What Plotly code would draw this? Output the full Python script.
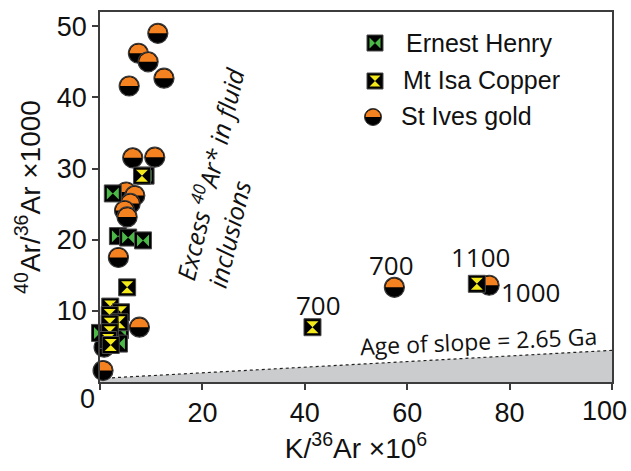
import numpy as np
import plotly.graph_objects as go

# ---------------- data ----------------
# Ernest Henry
eh_x = [2.5, 8.9, 3.5, 5.5, 8.4, 0.0, 3.9, 3.7]
eh_y = [26.5, 29.0, 20.5, 20.3, 19.9, 6.9, 7.3, 5.4]
# Mt Isa Copper
mi_x = [8.2, 5.3, 2.0, 4.1, 1.9, 3.8, 1.9, 1.9, 1.6, 2.1, 41.5, 73.6]
mi_y = [29.0, 13.3, 10.6, 9.8, 9.4, 8.4, 8.2, 7.0, 5.9, 5.2, 7.7, 13.8]
# St Ives gold
si_x = [11.3, 7.5, 9.4, 12.5, 5.7, 6.4, 10.7, 5.1, 6.8, 5.9, 4.8, 5.3, 3.6, 7.7, 0.8, 0.6, 57.5, 76.0]
si_y = [49.0, 46.2, 45.0, 42.7, 41.6, 31.5, 31.6, 26.7, 26.2, 25.1, 24.1, 23.2, 17.5, 7.7, 4.9, 1.6, 13.3, 13.6]
# reference slope (age of slope = 2.65 Ga)
slope_x = [0, 100]
slope_y = [0.5, 4.45]
# point labels
label_text = ["700", "700", "1100", "1000"]

x_ticks = [20, 40, 60, 80, 100]
y_ticks = [10, 20, 30, 40, 50]

# ---------------- layout constants ----------------
W, H = 631, 471
ML, MR, MT, MB = 100, 19, 12, 89
PW, PH = W - ML - MR, H - MT - MB
X_RANGE = [0, 100]
Y_RANGE = [0, 52]
PPX = PW / (X_RANGE[1] - X_RANGE[0])
PPY = PH / (Y_RANGE[1] - Y_RANGE[0])

ORANGE = "#f58220"
GREEN = "#4cb848"
YELLOW = "#f2e81a"
DARK = "#111111"
SANS = "Liberation Sans, Arial, sans-serif"
HUMAN = "Open Sans, Noto Sans, sans-serif"

SQ = 17      # square marker size (px)
INNER = 12   # bowtie/hourglass size (px)
CIRC = 20    # circle diameter (px)


def half_disc(x0, y0, r_px, ppx, ppy, n=32):
    t = np.linspace(0, np.pi, n)
    xs = list(x0 + (r_px / ppx) * np.cos(t)) + [x0 + r_px / ppx]
    ys = list(y0 + (r_px / ppy) * np.sin(t)) + [y0]
    return xs, ys


def P(px, py):
    """pixel position -> paper coordinates"""
    return (px - ML) / PW, (H - MB - py) / PH


fig = go.Figure()

# grey region under the slope
fig.add_trace(go.Scatter(
    x=slope_x, y=slope_y, mode="lines", fill="tozeroy", fillcolor="#cbcccd",
    line=dict(color="#222222", width=1.2, dash="3px,3px"),
    showlegend=False, hoverinfo="skip"))

# St Ives gold: black disc + orange upper half
for x0, y0 in zip(si_x, si_y):
    fig.add_trace(go.Scatter(
        x=[x0], y=[y0], mode="markers", cliponaxis=False, showlegend=False,
        name="St Ives gold",
        marker=dict(symbol="circle", size=CIRC, color="#000000",
                    line=dict(color="#3a3a3a", width=1.2))))
    hx, hy = half_disc(x0, y0, CIRC / 2 - 1.2, PPX, PPY)
    fig.add_trace(go.Scatter(
        x=hx, y=hy, mode="lines", fill="toself", fillcolor=ORANGE,
        line=dict(width=0, color=ORANGE), showlegend=False,
        name="St Ives gold", hoverinfo="skip"))


def square_marker(xs, ys, inner_symbol, inner_color, name):
    for x0, y0 in zip(xs, ys):
        fig.add_trace(go.Scatter(
            x=[x0], y=[y0], mode="markers", cliponaxis=False, showlegend=False,
            name=name,
            marker=dict(symbol="square", size=SQ, color="#000000",
                        line=dict(color="#4a4a4a", width=1))))
        fig.add_trace(go.Scatter(
            x=[x0], y=[y0], mode="markers", cliponaxis=False, showlegend=False,
            name=name, hoverinfo="skip",
            marker=dict(symbol=inner_symbol, size=INNER, color=inner_color,
                        line=dict(width=0))))


square_marker(eh_x, eh_y, "bowtie", GREEN, "Ernest Henry")
square_marker(mi_x, mi_y, "hourglass", YELLOW, "Mt Isa Copper")

# ---------------- legend (drawn in a pixel-space overlay axis) ----------------
leg_names = ["Ernest Henry", "Mt Isa Copper", "St Ives gold"]
leg_icon_px = [(375, 43), (375, 81), (373, 117)]
leg_text_px = [(404, 43), (401, 80), (399, 116)]

for (px, py), inner_symbol, inner_color, name in zip(
        leg_icon_px[:2], ["bowtie", "hourglass"], [GREEN, YELLOW], leg_names[:2]):
    fig.add_trace(go.Scatter(
        x=[px], y=[H - py], xaxis="x2", yaxis="y2", mode="markers",
        showlegend=False, name=name, hoverinfo="skip",
        marker=dict(symbol="square", size=16, color="#000000",
                    line=dict(color="#4a4a4a", width=1))))
    fig.add_trace(go.Scatter(
        x=[px], y=[H - py], xaxis="x2", yaxis="y2", mode="markers",
        showlegend=False, name=name, hoverinfo="skip",
        marker=dict(symbol=inner_symbol, size=11, color=inner_color)))

px, py = leg_icon_px[2]
fig.add_trace(go.Scatter(
    x=[px], y=[H - py], xaxis="x2", yaxis="y2", mode="markers",
    showlegend=False, name=leg_names[2], hoverinfo="skip",
    marker=dict(symbol="circle", size=17, color="#000000",
                line=dict(color="#3a3a3a", width=1))))
hx, hy = half_disc(px, H - py, 17 / 2 - 1, 1, 1)
fig.add_trace(go.Scatter(
    x=hx, y=hy, xaxis="x2", yaxis="y2", mode="lines", fill="toself",
    fillcolor=ORANGE, line=dict(width=0, color=ORANGE), showlegend=False,
    name=leg_names[2], hoverinfo="skip"))

annotations = []
for (tx, ty), name in zip(leg_text_px, leg_names):
    ax_, ay_ = P(tx, ty)
    annotations.append(dict(
        x=ax_, y=ay_, xref="paper", yref="paper", text=name, showarrow=False,
        xanchor="left", yanchor="middle",
        font=dict(family=SANS, size=25, color=DARK)))

# point labels
label_px = [(318, 305), (391, 265), (480, 257), (530, 292)]
for (lx, ly), t in zip(label_px, label_text):
    ax_, ay_ = P(lx, ly)
    annotations.append(dict(
        x=ax_, y=ay_, xref="paper", yref="paper", text=t, showarrow=False,
        xanchor="center", yanchor="middle",
        font=dict(family=HUMAN, size=26, color=DARK)))

# slope label
ax_, ay_ = P(478, 341)
annotations.append(dict(
    x=ax_, y=ay_, xref="paper", yref="paper", text="Age of slope = 2.65 Ga",
    showarrow=False, textangle=-2.5, xanchor="center", yanchor="middle",
    font=dict(family=HUMAN, size=23, color=DARK)))

# excess Ar annotation
ax_, ay_ = P(224, 178)
annotations.append(dict(
    x=ax_, y=ay_, xref="paper", yref="paper",
    text="Excess <sup>40</sup>Ar* in fluid<br>inclusions",
    showarrow=False, textangle=-76.5, align="left",
    xanchor="center", yanchor="middle",
    font=dict(family=HUMAN, size=25, color=DARK, style="italic")))

# origin "0"
ax_, ay_ = P(87, 399)
annotations.append(dict(
    x=ax_, y=ay_, xref="paper", yref="paper", text="0", showarrow=False,
    xanchor="center", yanchor="middle",
    font=dict(family=SANS, size=27, color=DARK)))

# last x tick label pulled inside the page, as in the reference
ax_, ay_ = P(629, 411)
annotations.append(dict(
    x=ax_, y=ay_, xref="paper", yref="paper", text=str(x_ticks[-1]),
    showarrow=False, xanchor="right", yanchor="middle",
    font=dict(family=SANS, size=27, color=DARK)))

axis_common = dict(
    showline=True, linecolor="#3c3c3c", linewidth=1.5, mirror=True,
    ticks="outside", ticklen=6, tickwidth=1.5, tickcolor="#3c3c3c",
    showgrid=False, zeroline=False, ticklabeloverflow="allow",
    automargin=False,
    tickfont=dict(family=SANS, size=27, color=DARK))

fig.update_layout(
    width=W, height=H,
    margin=dict(l=ML, r=MR, t=MT, b=MB, pad=0, autoexpand=False),
    paper_bgcolor="white", plot_bgcolor="white",
    showlegend=False,
    xaxis=dict(range=X_RANGE, tickvals=x_ticks[:-1],
               minor=dict(tickvals=[X_RANGE[0], x_ticks[-1]], ticks="outside",
                          ticklen=6, tickwidth=1.5, tickcolor="#3c3c3c",
                          showgrid=False),
               title=dict(text="K/<sup>36</sup>Ar ×10<sup>6</sup>",
                          font=dict(family=SANS, size=28, color=DARK),
                          standoff=6),
               **axis_common),
    yaxis=dict(range=Y_RANGE, tickvals=y_ticks,
               title=dict(text="<sup>40</sup>Ar/<sup>36</sup>Ar ×1000",
                          font=dict(family=SANS, size=28, color=DARK),
                          standoff=8),
               **axis_common),
    xaxis2=dict(overlaying="x", anchor="y2", range=[ML, W - MR], visible=False,
                fixedrange=True, automargin=False),
    yaxis2=dict(overlaying="y", anchor="x2", range=[MB, H - MT], visible=False,
                fixedrange=True, automargin=False),
    annotations=annotations,
)

fig.write_html("out.html")
